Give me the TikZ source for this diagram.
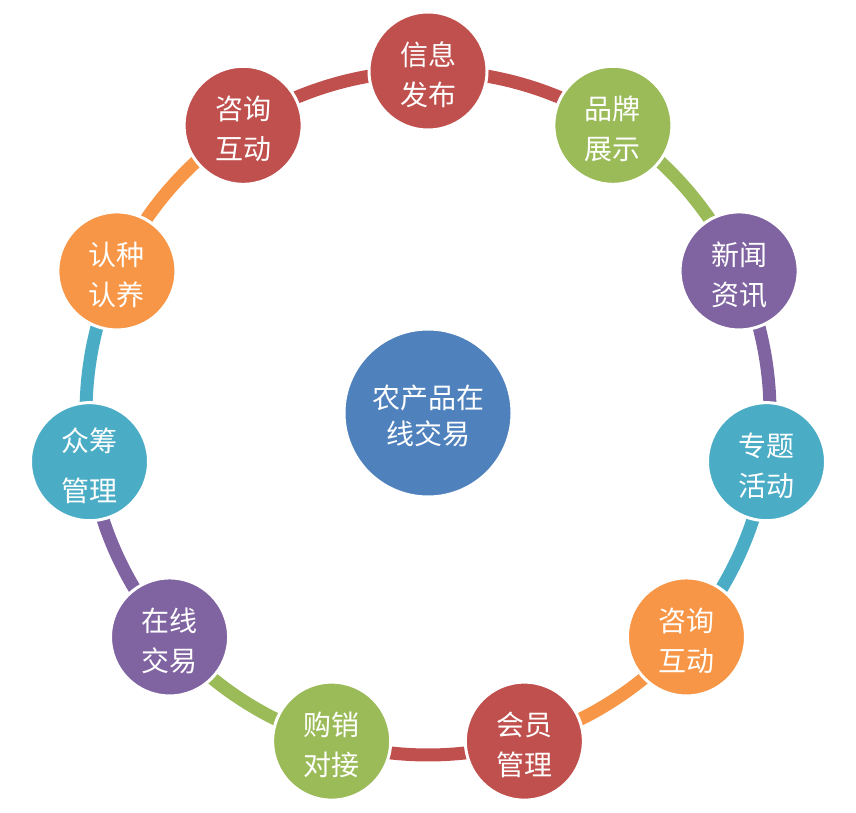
\documentclass[tikz,border=0pt]{standalone}
\usepackage{fontspec}
\usetikzlibrary{calc}
\setmainfont{Noto Sans CJK SC}
\definecolor{cred}{HTML}{C0504D}
\definecolor{cgreen}{HTML}{9BBB59}
\definecolor{cpurple}{HTML}{8064A2}
\definecolor{cteal}{HTML}{4BACC6}
\definecolor{corange}{HTML}{F79646}
\definecolor{cblue}{HTML}{4F81BD}
\begin{document}
\begin{tikzpicture}[x=1pt,y=1pt,
  bubble/.style={circle,minimum size=118pt,inner sep=0pt,draw=white,line width=3pt},
  txt/.style={text=white,align=center,inner sep=0pt,yshift=-4pt,font=\fontsize{28pt}{40pt}\selectfont},
  hub/.style={circle,minimum size=168pt,inner sep=0pt,draw=white,line width=3pt,fill=cblue},
  ring/.style={line width=13pt}]
\useasboundingbox (0,0) rectangle (856,812);
\coordinate (c) at (428,399);
\def\R{342}
\def\st{32.7273}
% node positions
\foreach \i in {0,...,10}{
  \pgfmathsetmacro\ang{90-\i*\st}
  \coordinate (p\i) at ($(c)+(\ang:\R)$);
}
% arcs
\foreach \i/\col in {0/cred,1/cgreen,2/cpurple,3/cteal,4/corange,5/cred,6/cgreen,7/cpurple,8/cteal,9/corange,10/cred}{
  \pgfmathsetmacro\ang{90-\i*\st}
  \pgfmathsetmacro\angb{90-(\i+1)*\st}
  \draw[ring,\col] (p\i) arc[start angle=\ang,end angle=\angb,radius=\R];
}
\node[hub,label={[txt,yshift=1pt,font=\fontsize{28pt}{36pt}\selectfont]center:农产品在\\线交易}] (hubn) at (c) {};
\node[bubble,fill=cred,label={[txt]center:信息\\发布}] (n0) at (p0) {};
\node[bubble,fill=cgreen,label={[txt]center:品牌\\展示}] (n1) at (p1) {};
\node[bubble,fill=cpurple,label={[txt]center:新闻\\资讯}] (n2) at (p2) {};
\node[bubble,fill=cteal,label={[txt]center:专题\\活动}] (n3) at (p3) {};
\node[bubble,fill=corange,label={[txt]center:咨询\\互动}] (n4) at (p4) {};
\node[bubble,fill=cred,label={[txt]center:会员\\管理}] (n5) at (p5) {};
\node[bubble,fill=cgreen,label={[txt]center:购销\\对接}] (n6) at (p6) {};
\node[bubble,fill=cpurple,label={[txt]center:在线\\交易}] (n7) at (p7) {};
\node[bubble,fill=cteal,label={[txt,font=\fontsize{28pt}{50pt}\selectfont]center:众筹\\管理}] (n8) at (p8) {};
\node[bubble,fill=corange,label={[txt]center:认种\\认养}] (n9) at (p9) {};
\node[bubble,fill=cred,label={[txt]center:咨询\\互动}] (n10) at (p10) {};
\end{tikzpicture}
\end{document}
